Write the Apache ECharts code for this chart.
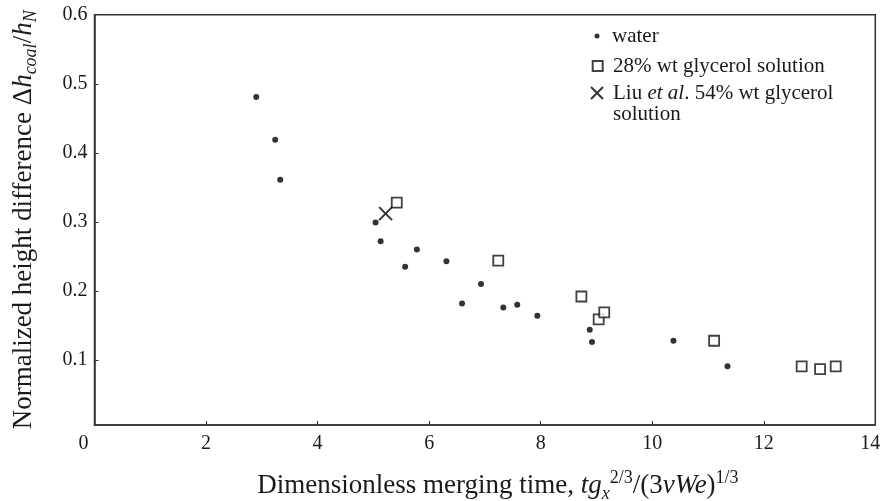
<!DOCTYPE html>
<html>
<head>
<meta charset="utf-8">
<script src="https://cdn.jsdelivr.net/npm/echarts@6/dist/echarts.min.js"></script>
<style>
  html, body { margin: 0; padding: 0; background: #fff; }
  #chart { width: 882px; height: 501px; }
</style>
</head>
<body>
<div id="chart"></div>
<script>
// Water drops: [dimensionless merging time, normalized height difference]
const waterX = [2.90, 3.24, 3.33, 5.04, 5.13, 5.57, 5.78, 6.31, 6.59, 6.93, 7.33, 7.58, 7.94, 8.88, 8.92, 10.38, 11.35];
const waterY = [0.481, 0.419, 0.361, 0.299, 0.272, 0.235, 0.260, 0.243, 0.182, 0.210, 0.176, 0.180, 0.164, 0.144, 0.126, 0.128, 0.091];

// 28% wt glycerol solution
const glycX = [5.42, 7.24, 8.73, 9.04, 9.14, 11.11, 12.68, 13.01, 13.29];
const glycY = [0.328, 0.244, 0.192, 0.159, 0.169, 0.128, 0.091, 0.087, 0.091];

// Liu et al. 54% wt glycerol solution
const liuX = [5.22];
const liuY = [0.312];

const xTicks = [0, 2, 4, 6, 8, 10, 12, 14];
const yTicks = [0.1, 0.2, 0.3, 0.4, 0.5, 0.6];

const seriesNames = ['water', '28% wt glycerol solution', 'Liu et al. 54% wt glycerol solution'];

const pairs = (xs, ys) => xs.map((x, i) => [x, ys[i]]);

const FONT = '"Liberation Serif", "DejaVu Serif", serif';
const INK = '#1a1a1a';
const AXIS = '#333';
const crossPath = 'path://M0,0L10,10M10,0L0,10';
const squarePath = 'path://M0,0H10V10H0Z';

const chart = echarts.init(document.getElementById('chart'), null, { renderer: 'canvas' });

// one legend block per series so each icon can have its own size
function legendBlock(name, icon, size, left, top, padLeft, formatter) {
  const lg = {
    orient: 'vertical', left: left, top: top,
    itemWidth: size, itemHeight: size,
    selectedMode: false,
    data: [{ name: name, icon: icon }],
    textStyle: {
      fontFamily: FONT, fontSize: 21, color: INK, lineHeight: 21, padding: [0, 0, 0, padLeft],
      rich: { i: { fontFamily: FONT, fontSize: 21, fontStyle: 'italic', color: INK, lineHeight: 21 } }
    }
  };
  if (formatter) lg.formatter = formatter;
  return lg;
}

const xFirst = xTicks[0];
const xLast = xTicks[xTicks.length - 1];

chart.setOption({
  animation: false,
  backgroundColor: '#fff',
  textStyle: { fontFamily: FONT },
  grid: {
    left: 94.5, right: 6.7, top: 14.7, bottom: 76,
    outerBoundsMode: 'none', containLabel: false,
    show: true, borderColor: AXIS, borderWidth: 1.5, backgroundColor: 'transparent'
  },
  legend: [
    legendBlock(seriesNames[0], 'circle', 5, 589.5, 20.5, 7.5),
    legendBlock(seriesNames[1], squarePath, 10, 586.7, 50.5, 5.3),
    legendBlock(seriesNames[2], crossPath, 12, 585, 56.5, 5,
      () => '\nLiu {i|et al}. 54% wt glycerol\nsolution')
  ],
  xAxis: {
    type: 'value', min: xFirst, max: xLast, interval: 2,
    axisLine: { show: true, lineStyle: { color: AXIS, width: 1.5 } },
    axisTick: { show: true, inside: true, length: 4, lineStyle: { color: AXIS, width: 1 } },
    splitLine: { show: false },
    axisLabel: {
      fontFamily: FONT, fontSize: 20, color: INK, margin: 9,
      // end labels sit slightly inward of their ticks
      formatter: v => v === xFirst ? '{z|' + v + '}' : (v === xLast ? '{e|' + v + '}' : String(v)),
      rich: {
        z: { fontFamily: FONT, fontSize: 20, color: INK, padding: [0, 22, 0, 0] },
        e: { fontFamily: FONT, fontSize: 20, color: INK, padding: [0, 10, 0, 0] }
      }
    },
    name: 'Dimensionless merging time, {i|tg}{sub|x}{sup|2/3}/(3{i|νWe}){sup|1/3}',
    nameLocation: 'middle', nameGap: 44,
    nameTextStyle: {
      fontFamily: FONT, fontSize: 27, color: INK, lineHeight: 34, padding: [0, 0, 0, 26],
      rich: {
        i: { fontFamily: FONT, fontSize: 27, fontStyle: 'italic', color: INK, lineHeight: 34 },
        sub: { fontFamily: FONT, fontSize: 18, fontStyle: 'italic', color: INK, verticalAlign: 'bottom', lineHeight: 34 },
        sup: { fontFamily: FONT, fontSize: 18, color: INK, verticalAlign: 'top', lineHeight: 34 }
      }
    }
  },
  yAxis: {
    type: 'value', min: 0.006, max: 0.6,
    axisLine: { show: true, lineStyle: { color: AXIS, width: 1.5 } },
    axisTick: { show: true, inside: true, length: 4, customValues: yTicks, lineStyle: { color: AXIS, width: 1 } },
    splitLine: { show: false },
    axisLabel: {
      fontFamily: FONT, fontSize: 20, color: INK, margin: 7,
      customValues: yTicks, formatter: v => v.toFixed(1)
    },
    name: 'Normalized height difference Δ{i|h}{sub|coal}/{i|h}{sub|N}',
    nameLocation: 'middle', nameGap: 54, nameRotate: 90,
    nameTextStyle: {
      fontFamily: FONT, fontSize: 27, color: INK, lineHeight: 34,
      rich: {
        i: { fontFamily: FONT, fontSize: 27, fontStyle: 'italic', color: INK, lineHeight: 34 },
        sub: { fontFamily: FONT, fontSize: 18, fontStyle: 'italic', color: INK, verticalAlign: 'bottom', lineHeight: 34 }
      }
    }
  },
  series: [
    {
      name: seriesNames[0], type: 'scatter', symbol: 'circle', symbolSize: 6,
      itemStyle: { color: '#000' },
      data: pairs(waterX, waterY)
    },
    {
      name: seriesNames[1], type: 'scatter', symbol: 'rect', symbolSize: 10,
      itemStyle: { color: '#fff', borderColor: '#111', borderWidth: 1.8 },
      data: pairs(glycX, glycY)
    },
    {
      name: seriesNames[2], type: 'scatter', symbol: crossPath, symbolSize: 13,
      itemStyle: { color: '#000', borderColor: '#000', borderWidth: 2 },
      data: pairs(liuX, liuY)
    }
  ]
});
</script>
</body>
</html>
